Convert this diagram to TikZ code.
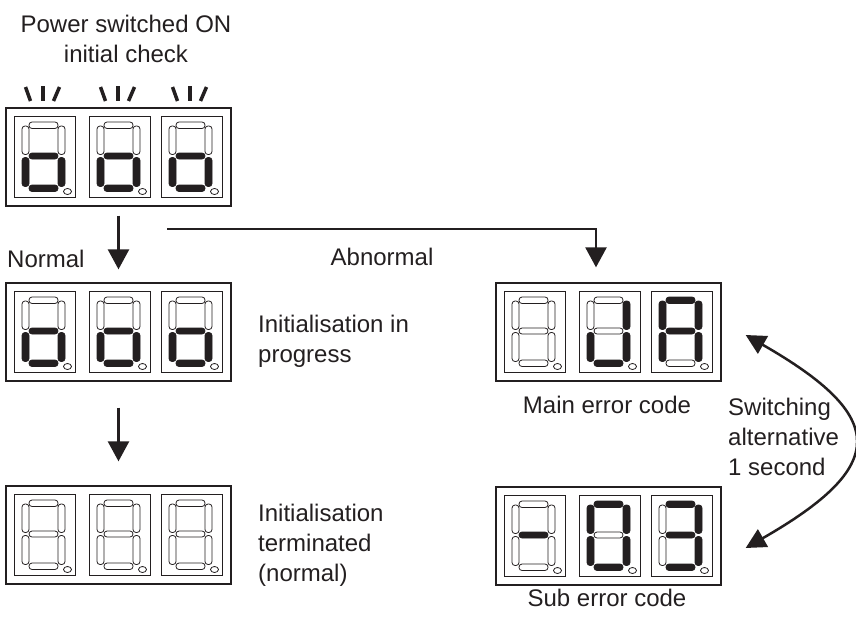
\documentclass[tikz,border=0pt]{standalone}
\usepackage{fontspec}
\setmainfont{Liberation Sans}
\usetikzlibrary{arrows.meta}
\definecolor{ink}{RGB}{35,31,32}
\tikzset{
  seg0/.style={draw=ink, line width=0.8pt, rounded corners=3pt},
  seg1/.style={draw=ink, fill=ink, line width=0.8pt, rounded corners=3pt},
  dbox/.style={draw=ink, line width=1pt},
  outer/.style={draw=ink, line width=1.3pt, minimum width=225pt, minimum height=98pt, inner sep=0pt},
  dpst/.style={draw=ink, fill=white, line width=0.8pt},
  flash/.style={draw=ink, line width=3.5pt},
  arr/.style={draw=ink, line width=2.5pt, -{Triangle[length=20pt,width=21pt]}},
  arrb/.style={draw=ink, line width=2.5pt, {Triangle[length=20pt,width=20pt]}-{Triangle[length=20pt,width=20pt]}},
  lbl/.style={text=ink, font=\fontsize{24}{30}\selectfont, inner sep=0pt},
}
\newcommand\sevdigit[9]{%
  \begin{scope}[shift={(#1,#2)}]
    \draw[dbox] (0,0) rectangle (61,81);
    \path[seg#3] (15,6) rectangle (44,12.5);
    \path[seg#4] (44,10) rectangle (51,38.5);
    \path[seg#5] (44,41.5) rectangle (51,70.5);
    \path[seg#6] (15,69) rectangle (44,75.5);
    \path[seg#7] (8,41.5) rectangle (15,70.5);
    \path[seg#8] (8,10) rectangle (15,38.5);
    \path[seg#9] (15,37) rectangle (44,43);
    \draw[dpst] (53.5,75.5) ellipse [x radius=4, y radius=3];
  \end{scope}}
\newcommand\flashmarks[1]{%
  \draw[flash] ({#1-19},87) -- ({#1-14},101);
  \draw[flash] ({#1-1.5},86) -- ({#1-1.5},101);
  \draw[flash] ({#1+15},87) -- ({#1+9},101);}
\begin{document}
\begin{tikzpicture}[x=1pt,y=-1pt]
\useasboundingbox (0,0) rectangle (856,618);
% display frames
\node[outer] (top) at (118.5,157) {};
\node[outer] (mid) at (118.5,332) {};
\node[outer] (bot) at (118.5,535) {};
\node[outer] (main) at (608.5,332) {};
\node[outer] (sub) at (608.5,536) {};
% digits: a b c d e f g
\sevdigit{14}{116}{0}{0}{1}{1}{1}{0}{1}
\sevdigit{89}{116}{0}{0}{1}{1}{1}{0}{1}
\sevdigit{161}{116}{0}{0}{1}{1}{1}{0}{1}
\sevdigit{14}{291}{0}{0}{1}{1}{1}{0}{1}
\sevdigit{89}{291}{0}{0}{1}{1}{1}{0}{1}
\sevdigit{161}{291}{0}{0}{1}{1}{1}{0}{1}
\sevdigit{14}{494}{0}{0}{0}{0}{0}{0}{0}
\sevdigit{89}{494}{0}{0}{0}{0}{0}{0}{0}
\sevdigit{161}{494}{0}{0}{0}{0}{0}{0}{0}
\sevdigit{504}{291}{0}{0}{0}{0}{0}{0}{0}
\sevdigit{579}{291}{0}{1}{1}{1}{1}{0}{0}
\sevdigit{651}{291}{1}{1}{1}{0}{1}{1}{1}
\sevdigit{504}{495}{0}{0}{0}{0}{0}{0}{1}
\sevdigit{579}{495}{1}{1}{1}{1}{1}{1}{0}
\sevdigit{651}{495}{1}{1}{1}{1}{0}{0}{1}
% flashing marks
\flashmarks{44.5}
\flashmarks{119.5}
\flashmarks{191.5}
% labels (multi-line: base = last line)
\node[lbl, align=center, anchor=base] (tpow) at (126,63) {Power switched ON\\initial check};
\node[lbl, anchor=base west] (tnorm) at (7,267) {Normal};
\node[lbl, anchor=base] (tabn) at (382,265) {Abnormal};
\node[lbl, align=left, anchor=base west] (tprog) at (258,362) {Initialisation in\\progress};
\node[lbl, align=left, anchor=base west] (tterm) at (258,581) {Initialisation\\terminated\\(normal)};
\node[lbl, anchor=base] (tmain) at (607,413) {Main error code};
\node[lbl, anchor=base] (tsub) at (607,606) {Sub error code};
\node[lbl, align=left, anchor=base west] (tsw) at (728,475) {Switching\\alternative\\1 second};
% connectors
\coordinate (abst) at (167,229);
\draw[arr] ([yshift=-9pt]top.south) -- ([yshift=13pt]mid.north);
\draw[arr] ([yshift=-26pt]mid.south) -- ([yshift=24pt]bot.north);
\draw[arr] (abst) -| ([xshift=-12.5pt,yshift=15pt]main.north);
\draw[arrb] ([shift={(24pt,-3pt)}]main.east) .. controls +(143,82) and +(143,-82) .. ([shift={(24pt,-12pt)}]sub.east);
\end{tikzpicture}
\end{document}
